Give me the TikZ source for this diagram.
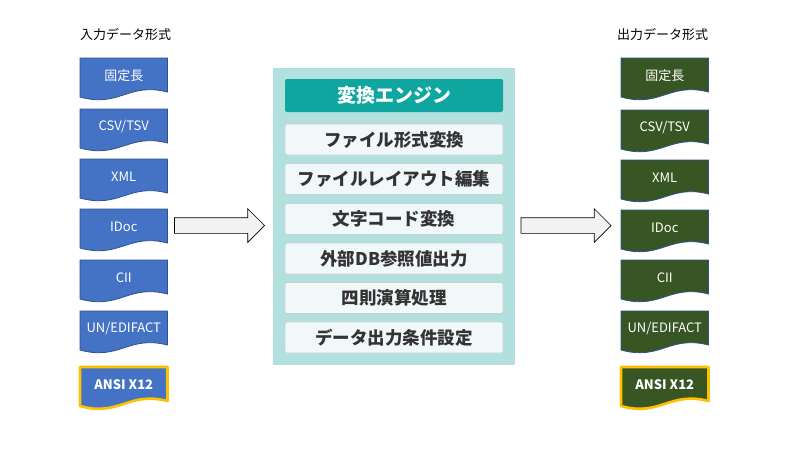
\documentclass[tikz,border=0pt]{standalone}
\usepackage{fontspec}
\setmainfont{Noto Sans CJK JP}
\usetikzlibrary{shapes.arrows}
\definecolor{docblue}{RGB}{68,114,196}
\definecolor{docgreen}{RGB}{55,86,35}
\definecolor{docedge}{RGB}{47,82,143}
\definecolor{goldedge}{RGB}{255,192,0}
\definecolor{enginebg}{RGB}{178,224,222}
\definecolor{enginetitle}{RGB}{14,166,158}
\definecolor{itemfill}{RGB}{241,248,249}
\definecolor{itemedge}{RGB}{204,210,210}
\definecolor{itemtext}{RGB}{51,51,51}
\definecolor{arrowfill}{RGB}{242,242,242}
\newcommand\docitem[6]{%
  \begin{scope}[shift={(#2,#3)}]
    \path[#4] (0,0) -- (87.5,0) -- (87.5,34)
      .. controls (48,24) and (39.5,50) .. (0,39) -- cycle;
    \node[doclabel,#6] (#1) at (43.75,17.5) {#5};
  \end{scope}}
\begin{document}
\begin{tikzpicture}[x=1pt,y=-1pt,
  bluedoc/.style={fill=docblue,draw=docedge,line width=0.8pt},
  greendoc/.style={fill=docgreen,draw=docedge,line width=0.8pt},
  golddoc/.style={draw=goldedge,line width=2.6pt,line join=round},
  doclabel/.style={text=white,font=\fontsize{13}{15}\selectfont,inner sep=0pt},
  boldlabel/.style={font=\fontsize{13}{15}\selectfont\bfseries},
  heading/.style={font=\fontsize{13}{15}\selectfont,inner sep=0pt,anchor=west},
  bigarrow/.style={single arrow,draw=black,fill=arrowfill,line width=0.7pt,
    minimum height=90pt,single arrow head extend=9pt,inner xsep=0pt,inner ysep=7.5pt,
    outer sep=0pt,anchor=tail},
  engineitem/.style={fill=itemfill,draw=itemedge,line width=0.8pt,rounded corners=1.5pt,
    minimum width=218pt,minimum height=31pt,inner sep=0pt,text=itemtext,
    font=\fontsize{17.5}{19}\selectfont\bfseries}]
\useasboundingbox (0,0) rectangle (800,450);

% headings
\node[heading] (inhead) at (80,35) {入力データ形式};
\node[heading] (outhead) at (617,35) {出力データ形式};

% input documents
\docitem{in1}{80}{58}{bluedoc}{固定長}{}
\docitem{in2}{80}{109}{bluedoc}{CSV/TSV}{}
\docitem{in3}{80}{159}{bluedoc}{XML}{}
\docitem{in4}{80}{209}{bluedoc}{IDoc}{}
\docitem{in5}{80}{260}{bluedoc}{CII}{}
\docitem{in6}{80}{311}{bluedoc}{UN/EDIFACT}{}
\docitem{in7}{80}{367}{bluedoc,golddoc}{ANSI X12}{boldlabel}

% output documents
\docitem{out1}{621}{58}{greendoc}{固定長}{}
\docitem{out2}{621}{110}{greendoc}{CSV/TSV}{}
\docitem{out3}{621}{160}{greendoc}{XML}{}
\docitem{out4}{621}{210}{greendoc}{IDoc}{}
\docitem{out5}{621}{260}{greendoc}{CII}{}
\docitem{out6}{621}{311}{greendoc}{UN/EDIFACT}{}
\docitem{out7}{621}{367}{greendoc,golddoc}{ANSI X12}{boldlabel}

% engine
\node[fill=enginebg,minimum width=242pt,minimum height=297pt,inner sep=0pt,anchor=north west] (engine) at (273,68) {};
\node[fill=enginetitle,rounded corners=2pt,minimum width=218pt,minimum height=33pt,inner sep=0pt,
  text=white,font=\fontsize{19}{21}\selectfont\bfseries] (title) at (394,95.5) {変換エンジン};
\node[engineitem] (e1) at (394,139.5) {ファイル形式変換};
\node[engineitem] (e2) at (394,179) {ファイルレイアウト編集};
\node[engineitem] (e3) at (394,219) {文字コード変換};
\node[engineitem] (e4) at (394,258.5) {外部DB参照値出力};
\node[engineitem] (e5) at (394,298) {四則演算処理};
\node[engineitem] (e6) at (394,337.5) {データ出力条件設定};

% arrows
\node[bigarrow] (arrowin) at (174.5,225.5) {};
\node[bigarrow] (arrowout) at (521,225.5) {};
\end{tikzpicture}
\end{document}
